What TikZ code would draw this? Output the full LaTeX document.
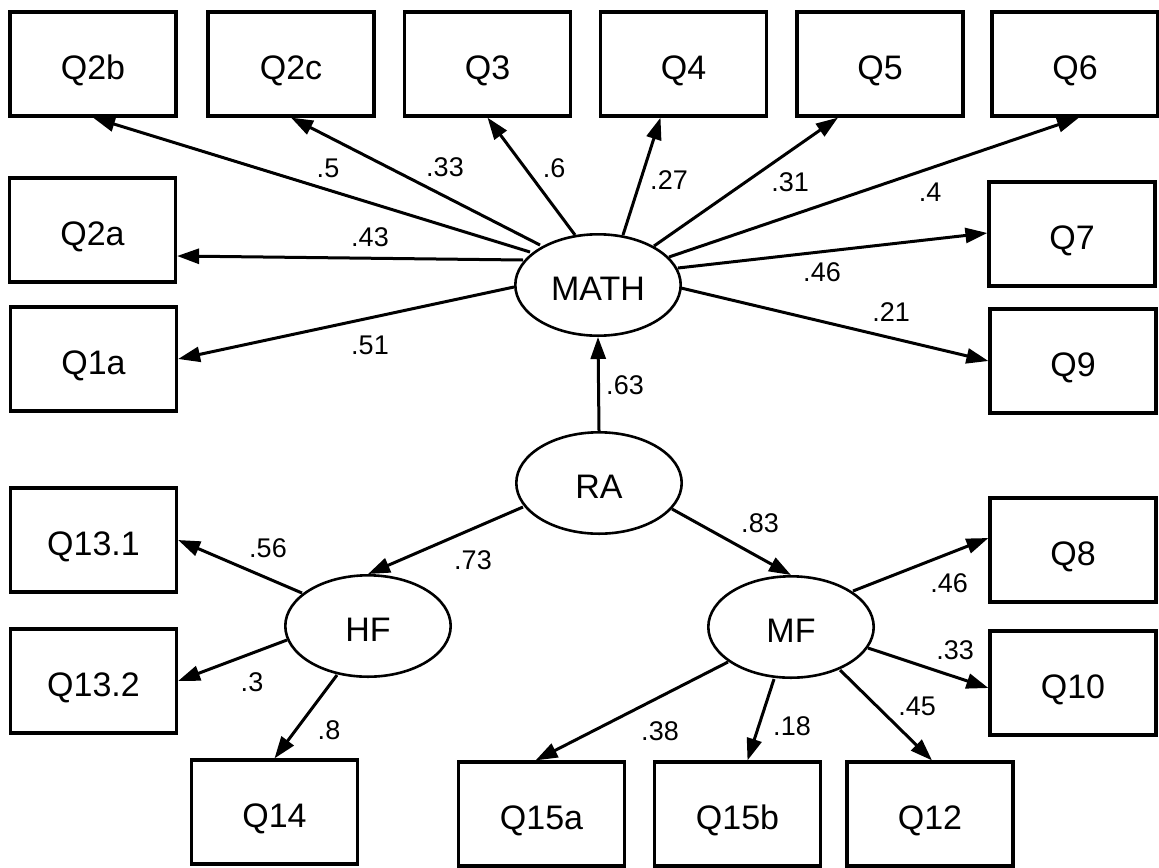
\documentclass[tikz,border=0pt]{standalone}
\usepackage{fontspec}
\setmainfont{Liberation Sans}
\usetikzlibrary{shapes.geometric,arrows.meta,calc}
\begin{document}
\begin{tikzpicture}[x=0.5pt,y=-0.5pt,
 obs/.style={draw,line width=1.6pt,minimum width=83pt,minimum height=52pt,inner sep=0pt,text height=15pt,text depth=0pt,font=\fontsize{17}{20}\selectfont},
 lat/.style={draw,ellipse,line width=1.3pt,minimum width=82.7pt,minimum height=50.7pt,inner sep=0pt,text height=15pt,text depth=0pt,font=\fontsize{17}{20}\selectfont},
 arr/.style={line width=1.5pt,-{Triangle[length=11pt,width=7.5pt]}},
 lbl/.style={font=\fontsize{13.5}{16}\selectfont,inner sep=0pt}]
\useasboundingbox (0,0) rectangle (1159,867);
% observed variables
\node[obs] (Q2b) at (93,64) {Q2b};
\node[obs] (Q2c) at (291,64) {Q2c};
\node[obs] (Q3) at (487.5,64) {Q3};
\node[obs] (Q4) at (683.5,64) {Q4};
\node[obs] (Q5) at (880,64) {Q5};
\node[obs] (Q6) at (1075,64) {Q6};
\node[obs] (Q2a) at (92.5,230) {Q2a};
\node[obs] (Q1a) at (93.5,359) {Q1a};
\node[obs] (Q13-1) at (93.5,540) {Q13.1};
\node[obs] (Q13-2) at (93.5,681) {Q13.2};
\node[obs] (Q7) at (1072,234) {Q7};
\node[obs] (Q9) at (1073,361) {Q9};
\node[obs] (Q8) at (1073,550) {Q8};
\node[obs] (Q10) at (1073,683) {Q10};
\node[obs] (Q14) at (274.5,812) {Q14};
\node[obs] (Q15a) at (541.5,814) {Q15a};
\node[obs] (Q15b) at (737.5,814) {Q15b};
\node[obs] (Q12) at (930,814) {Q12};
% latent variables
\node[lat] (MATH) at (598,285) {MATH};
\node[lat] (RA) at (599,483) {RA};
\node[lat] (HF) at (368,626) {HF};
\node[lat] (MF) at (791,627) {MF};
% MATH loadings
\draw[arr] ($(MATH)+(-68,-33)$) -- (Q2b.south);
\draw[arr] ($(MATH)+(-58,-40)$) -- (Q2c.south);
\draw[arr] ($(MATH)+(-23,-50)$) -- (Q3.south);
\draw[arr] ($(MATH)+(25,-50)$) -- ($(Q4.south)+(-23,0)$);
\draw[arr] ($(MATH)+(56,-39)$) -- ($(Q5.south)+(-42,0)$);
\draw[arr] ($(MATH)+(71,-28)$) -- ($(Q6.south)+(4,0)$);
\draw[arr] ($(MATH)+(80,-17)$) -- ($(Q7.west)+(0,-1)$);
\draw[arr] ($(MATH)+(83,3)$) -- (Q9.west);
\draw[arr] ($(MATH)+(-75,-25)$) -- ($(Q2a.east)+(0,26)$);
\draw[arr] ($(MATH)+(-84,2)$) -- (Q1a.east);
% RA paths
\draw[arr] (RA.north) -- (MATH.south);
\draw[arr] ($(RA)+(-76,24)$) -- (HF.north);
\draw[arr] ($(RA)+(73,26)$) -- (MF.north);
% HF loadings
\draw[arr] ($(HF)+(-66,-33)$) -- (Q13-1.east);
\draw[arr] ($(HF)+(-81,14)$) -- (Q13-2.east);
\draw[arr] ($(HF)+(-31,49)$) -- (Q14.north);
% MF loadings
\draw[arr] ($(MF)+(62,-36)$) -- ($(Q8.west)+(0,-12)$);
\draw[arr] ($(MF)+(77,21)$) -- ($(Q10.west)+(0,5)$);
\draw[arr] ($(MF)+(49,43)$) -- ($(Q12.north)+(2,0)$);
\draw[arr] ($(MF)+(-17,52)$) -- ($(Q15b.north)+(10,0)$);
\draw[arr] ($(MF)+(-63,35)$) -- ($(Q15a.north)+(-6,0)$);
% labels
\node[lbl] (l2b) at (328,168) {.5};
\node[lbl] (l2c) at (445,167) {.33};
\node[lbl] (l3) at (554,168) {.6};
\node[lbl] (l4) at (669,180) {.27};
\node[lbl] (l5) at (790,182) {.31};
\node[lbl] (l6) at (930,192) {.4};
\node[lbl] (l7) at (822,272) {.46};
\node[lbl] (l2a) at (370,237) {.43};
\node[lbl] (l1a) at (370,345) {.51};
\node[lbl] (l9) at (891,312) {.21};
\node[lbl] (lma) at (625,385) {.63};
\node[lbl] (lhf) at (473,560) {.73};
\node[lbl] (lmf) at (760,523) {.83};
\node[lbl] (l131) at (268,548) {.56};
\node[lbl] (l132) at (252,682) {.3};
\node[lbl] (l14) at (329,730) {.8};
\node[lbl] (l8) at (949,583) {.46};
\node[lbl] (l10) at (955,650) {.33};
\node[lbl] (l12) at (917,706) {.45};
\node[lbl] (l15b) at (792,726) {.18};
\node[lbl] (l15a) at (660,731) {.38};
\end{tikzpicture}
\end{document}
